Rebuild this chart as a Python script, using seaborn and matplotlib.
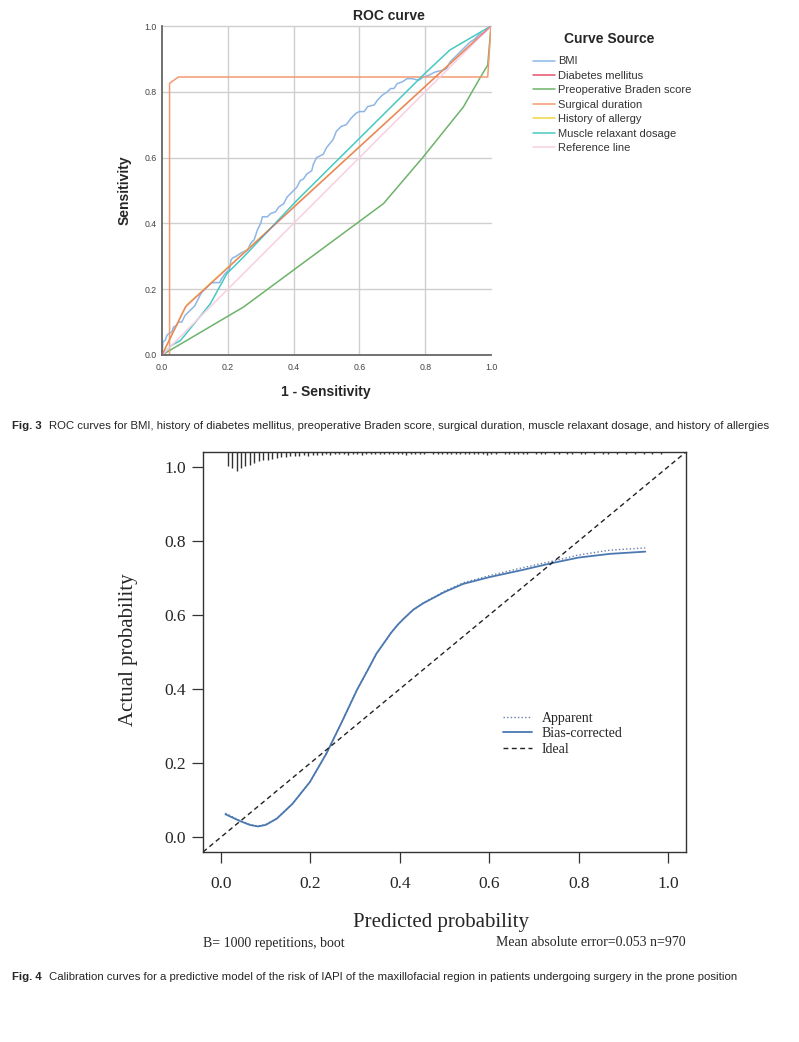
import pandas as pd
import numpy as np
import matplotlib
matplotlib.use("Agg")
import matplotlib.pyplot as plt
from matplotlib.colors import to_hex
from matplotlib.lines import Line2D
import seaborn as sns

# ---------------- Fig. 3 data (ROC curves) ----------------
bmi_fpr = [0, 0.003, 0.01, 0.015, 0.02, 0.03, 0.035, 0.045, 0.05, 0.06, 0.07, 0.08, 0.09, 0.10,
           0.11, 0.12, 0.13, 0.14, 0.15, 0.16, 0.175, 0.18, 0.19, 0.205, 0.21, 0.215, 0.225, 0.24,
           0.25, 0.26, 0.27, 0.28, 0.29, 0.30, 0.305, 0.32, 0.33, 0.345, 0.355, 0.37, 0.38, 0.39,
           0.40, 0.41, 0.42, 0.43, 0.44, 0.455, 0.46, 0.47, 0.49, 0.50, 0.52, 0.53, 0.545, 0.56,
           0.575, 0.59, 0.60, 0.615, 0.625, 0.645, 0.655, 0.67, 0.685, 0.695, 0.705, 0.715, 0.73,
           0.745, 0.76, 0.78, 0.795, 0.81, 0.83, 0.85, 0.865, 0.875, 0.89, 0.905, 0.92, 0.935,
           0.95, 0.965, 0.98, 0.99, 1.0]
bmi_tpr = [0, 0.04, 0.045, 0.06, 0.065, 0.07, 0.085, 0.09, 0.10, 0.10, 0.12, 0.13, 0.14, 0.15,
           0.17, 0.19, 0.20, 0.21, 0.22, 0.22, 0.22, 0.23, 0.245, 0.26, 0.29, 0.295, 0.30, 0.31,
           0.315, 0.32, 0.34, 0.35, 0.38, 0.40, 0.42, 0.42, 0.43, 0.435, 0.45, 0.46, 0.48, 0.49,
           0.50, 0.51, 0.53, 0.535, 0.55, 0.56, 0.58, 0.60, 0.61, 0.63, 0.655, 0.68, 0.695, 0.70,
           0.72, 0.735, 0.74, 0.74, 0.755, 0.76, 0.775, 0.79, 0.80, 0.81, 0.81, 0.825, 0.83,
           0.84, 0.84, 0.835, 0.845, 0.85, 0.86, 0.865, 0.87, 0.89, 0.905, 0.92, 0.935, 0.95,
           0.96, 0.975, 0.98, 0.99, 1.0]
diabetes_fpr = [0, 0.071, 1.0]
diabetes_tpr = [0, 0.146, 1.0]
braden_fpr = [0, 0.248, 0.673, 0.794, 0.916, 0.967, 0.99, 1.0]
braden_tpr = [0, 0.146, 0.46, 0.602, 0.754, 0.843, 0.881, 1.0]
duration_fpr = [0, 0.023, 0.023, 0.05, 0.99, 1.0]
duration_tpr = [0, 0.0, 0.826, 0.845, 0.845, 1.0]
allergy_fpr = [0, 0.075, 1.0]
allergy_tpr = [0, 0.152, 1.0]
muscle_fpr = [0, 0.03, 0.056, 0.106, 0.147, 0.197, 0.248, 0.41, 0.794, 0.875, 1.0]
muscle_tpr = [0, 0.03, 0.044, 0.105, 0.156, 0.247, 0.298, 0.47, 0.851, 0.927, 1.0]
ref_fpr = [0, 1.0]
ref_tpr = [0, 1.0]

roc_sources = ["BMI", "Diabetes mellitus", "Preoperative Braden score", "Surgical duration",
               "History of allergy", "Muscle relaxant dosage", "Reference line"]
roc_colors = ["#8db6e6", "#e4506e", "#6db36a", "#f39a72", "#f0d646", "#46c9c2", "#f8cfe0"]
roc_xy = [(bmi_fpr, bmi_tpr), (diabetes_fpr, diabetes_tpr), (braden_fpr, braden_tpr),
          (duration_fpr, duration_tpr), (allergy_fpr, allergy_tpr), (muscle_fpr, muscle_tpr),
          (ref_fpr, ref_tpr)]

# ---------------- Fig. 4 data (calibration) ----------------
bias_pred = [0.01, 0.04, 0.065, 0.083, 0.10, 0.125, 0.16, 0.199, 0.236, 0.27, 0.304, 0.33, 0.348,
             0.365, 0.38, 0.395, 0.408, 0.43, 0.453, 0.50, 0.542, 0.60, 0.676, 0.74, 0.80, 0.87,
             0.949]
bias_act = [0.062, 0.045, 0.033, 0.029, 0.033, 0.050, 0.09, 0.149, 0.226, 0.31, 0.397, 0.455,
            0.496, 0.525, 0.551, 0.573, 0.589, 0.614, 0.632, 0.662, 0.684, 0.702, 0.722, 0.740,
            0.755, 0.765, 0.771]
app_pred = [0.01, 0.04, 0.065, 0.083, 0.10, 0.125, 0.16, 0.199, 0.236, 0.27, 0.304, 0.33, 0.348,
            0.365, 0.38, 0.395, 0.408, 0.43, 0.453, 0.50, 0.542, 0.60, 0.676, 0.74, 0.80, 0.87,
            0.949]
app_act = [0.065, 0.046, 0.034, 0.030, 0.034, 0.051, 0.09, 0.149, 0.226, 0.31, 0.397, 0.455,
           0.496, 0.525, 0.551, 0.573, 0.589, 0.614, 0.633, 0.664, 0.687, 0.706, 0.728, 0.745,
           0.762, 0.775, 0.781]

# distribution of predicted probabilities (rug at top), relative lengths
rug_pred = [0.015, 0.025, 0.035, 0.045, 0.055, 0.065, 0.075, 0.085, 0.095, 0.105, 0.115, 0.125,
            0.135, 0.145, 0.155, 0.165, 0.175, 0.185, 0.195, 0.205, 0.215, 0.225, 0.235, 0.245,
            0.255, 0.265, 0.275, 0.285, 0.295, 0.305, 0.315, 0.325, 0.335, 0.345, 0.355, 0.365,
            0.375, 0.385, 0.395, 0.405, 0.415, 0.425, 0.435, 0.445, 0.455, 0.475, 0.485, 0.495,
            0.505, 0.515, 0.525, 0.535, 0.545, 0.555, 0.565, 0.575, 0.585, 0.595, 0.605, 0.615,
            0.635, 0.645, 0.655, 0.665, 0.675, 0.685, 0.705, 0.715, 0.725, 0.745, 0.755, 0.775,
            0.785, 0.805, 0.815, 0.835, 0.855, 0.865, 0.885, 0.905, 0.925, 0.945, 0.965, 0.985]
rug_len = [14, 16, 19, 16, 14, 13, 11, 9, 8, 8, 7, 6, 5, 5, 4, 4, 4, 3, 4, 3, 3, 3, 2, 3,
           2, 2, 2, 3, 2, 2, 3, 2, 2, 2, 2, 2, 2, 2, 2, 2, 3, 2, 2, 2, 2, 2, 2, 2,
           2, 2, 2, 2, 2, 2, 2, 2, 2, 3, 2, 2, 2, 2, 2, 2, 2, 2, 2, 2, 2, 2, 2, 2,
           2, 2, 2, 2, 2, 2, 2, 2, 2, 2, 2, 2]

sns.set_style("white")
plt.rcParams["font.family"] = ["Liberation Sans", "DejaVu Sans"]

fig = plt.figure(figsize=(7.99, 10.42), dpi=100)
W, H = 799.0, 1042.0

# ================= Fig. 3 : ROC =================
ax1 = fig.add_axes([162 / W, 1 - 355 / H, 329 / W, 329 / H])
frames = []
for name, (fx, ty) in zip(roc_sources, roc_xy):
    frames.append(pd.DataFrame({"fpr": fx, "tpr": ty, "source": name}))
roc_df = pd.concat(frames, ignore_index=True)

for v in [0.2, 0.4, 0.6, 0.8]:
    ax1.axvline(v, color="#cfcfcf", lw=1.0, zorder=0)
for v in [0.2, 0.4, 0.6, 0.8, 1.0]:
    ax1.axhline(v, color="#cfcfcf", lw=1.0, zorder=0, clip_on=False)

sns.lineplot(data=roc_df, x="fpr", y="tpr", hue="source", hue_order=roc_sources,
             palette=dict(zip(roc_sources, roc_colors)), sort=False, estimator=None,
             lw=1.1, ax=ax1)
# the diabetes line sits on top of the allergy line, blending to orange
for ln in ax1.lines:
    if to_hex(ln.get_color()) == roc_colors[1] and len(ln.get_xdata()) > 0:
        ln.set_zorder(2.6)
        ln.set_alpha(0.6)
ax1.set_xlim(0, 1)
ax1.set_ylim(0, 1)
ax1.set_xticks([0, 0.2, 0.4, 0.6, 0.8, 1.0])
ax1.set_yticks([0, 0.2, 0.4, 0.6, 0.8, 1.0])
ax1.set_xticklabels(["0.0", "0.2", "0.4", "0.6", "0.8", "1.0"])
ax1.set_yticklabels(["0.0", "0.2", "0.4", "0.6", "0.8", "1.0"])
ax1.tick_params(length=0, labelsize=6.3, labelcolor="#444444", pad=4)
ax1.tick_params(axis="x", pad=6)
for s in ["top", "right"]:
    ax1.spines[s].set_visible(False)
for s in ["left", "bottom"]:
    ax1.spines[s].set_color("#666666")
    ax1.spines[s].set_linewidth(1.3)

ax1.set_xlabel("1 - Sensitivity", fontsize=10, fontweight="bold")
ax1.set_ylabel("Sensitivity", fontsize=10, fontweight="bold")
ax1.xaxis.set_label_coords((326 - 162) / 329, (355 - 392) / 329)
ax1.xaxis.label.set_va("center")
ax1.yaxis.set_label_coords((125 - 162) / 329, 0.5)
ax1.yaxis.label.set_va("center")
ax1.text((389 - 162) / 329, (355 - 16) / 329, "ROC curve", transform=ax1.transAxes,
         ha="center", va="center", fontsize=10, fontweight="bold")
ax1.text((609 - 162) / 329, (355 - 39) / 329, "Curve Source", transform=ax1.transAxes,
         ha="center", va="center", fontsize=10, fontweight="bold")

handles, labels = ax1.get_legend_handles_labels()
leg = ax1.legend(handles, labels, loc="upper left",
                 bbox_to_anchor=((529 - 162) / 329, (355 - 52) / 329), frameon=False,
                 fontsize=8, handlelength=1.95, handletextpad=0.25, labelspacing=0.4,
                 borderaxespad=0)
for t in leg.get_texts():
    t.set_color("#333333")

# ================= Fig. 4 : calibration =================
ax2 = fig.add_axes([203 / W, 1 - 852 / H, 483 / W, 400 / H])
cal_df = pd.concat([
    pd.DataFrame({"pred": app_pred, "actual": app_act, "curve": "Apparent"}),
    pd.DataFrame({"pred": bias_pred, "actual": bias_act, "curve": "Bias-corrected"}),
], ignore_index=True)
sns.lineplot(data=cal_df[cal_df.curve == "Apparent"], x="pred", y="actual", color="#6a7fa8",
             lw=1.0, linestyle=(0, (1, 1.6)), estimator=None, sort=False, ax=ax2, legend=False)
sns.lineplot(data=cal_df[cal_df.curve == "Bias-corrected"], x="pred", y="actual",
             color="#4a78b0", lw=1.3, estimator=None, sort=False, ax=ax2, legend=False)
ax2.axline((0, 0), (1, 1), color="#222222", lw=1.0, linestyle=(0, (3.5, 2.5)))

ax2.set_xlim(-0.04, 1.04)
ax2.set_ylim(-0.04, 1.04)
top = 1.04
ax2.vlines(rug_pred, [top - h / 370.0 for h in rug_len], top, color="#333333", lw=1.0)

ax2.set_xticks([0, 0.2, 0.4, 0.6, 0.8, 1.0])
ax2.set_yticks([0, 0.2, 0.4, 0.6, 0.8, 1.0])
ax2.set_xticklabels(["0.0", "0.2", "0.4", "0.6", "0.8", "1.0"])
ax2.set_yticklabels(["0.0", "0.2", "0.4", "0.6", "0.8", "1.0"])
ax2.tick_params(direction="out", length=8, width=0.9, color="#333333", labelsize=12.5,
                left=True, bottom=True)
ax2.tick_params(axis="x", pad=9)
ax2.tick_params(axis="y", pad=4)
for lab in ax2.get_xticklabels() + ax2.get_yticklabels():
    lab.set_family("Liberation Serif")
for s in ax2.spines.values():
    s.set_color("#333333")
    s.set_linewidth(1.0)

ax2.set_xlabel("Predicted probability", fontsize=15, family="Liberation Serif")
ax2.xaxis.set_label_coords((441 - 203) / 483, (852 - 923) / 400)
ax2.xaxis.label.set_va("center")
ax2.set_ylabel("Actual probability", fontsize=15, family="Liberation Serif")
ax2.yaxis.set_label_coords((129 - 203) / 483, (852 - 650) / 400)
ax2.yaxis.label.set_va("center")

leg_handles = [Line2D([], [], color="#6a7fa8", lw=1.0, linestyle=(0, (1, 1.6))),
               Line2D([], [], color="#4a78b0", lw=1.3),
               Line2D([], [], color="#222222", lw=1.0, linestyle=(0, (3.5, 2.5)))]
ax2.legend(leg_handles, ["Apparent", "Bias-corrected", "Ideal"], loc="upper left",
           bbox_to_anchor=((497 - 203) / 483, (852 - 706) / 400), frameon=False,
           prop={"family": "Liberation Serif", "size": 10}, handlelength=2.1,
           handletextpad=0.7, labelspacing=0.2, borderaxespad=0)

fig.text(203 / W, 1 - 943 / H, "B= 1000 repetitions, boot", ha="left", va="center",
         fontsize=10, family="Liberation Serif")
fig.text(686 / W, 1 - 943 / H, "Mean absolute error=0.053 n=970", ha="right", va="center",
         fontsize=10, family="Liberation Serif")

# ---------------- captions ----------------
cap_font = ["Liberation Sans", "DejaVu Sans"]


def caption(y_px, head, body):
    t = fig.text(12 / W, 1 - y_px / H, head, ha="left", va="center", fontsize=8.2,
                 fontweight="bold", family=cap_font)
    fig.canvas.draw()
    bb = t.get_window_extent()
    fig.text((bb.x1 + 7) / W, 1 - y_px / H, body, ha="left", va="center", fontsize=8.2,
             family=cap_font)


caption(426, "Fig. 3", "ROC curves for BMI, history of diabetes mellitus, preoperative Braden score, "
        "surgical duration, muscle relaxant dosage, and history of allergies")
caption(977, "Fig. 4", "Calibration curves for a predictive model of the risk of IAPI of the "
        "maxillofacial region in patients undergoing surgery in the prone position")

fig.savefig("out.png", dpi=100)
